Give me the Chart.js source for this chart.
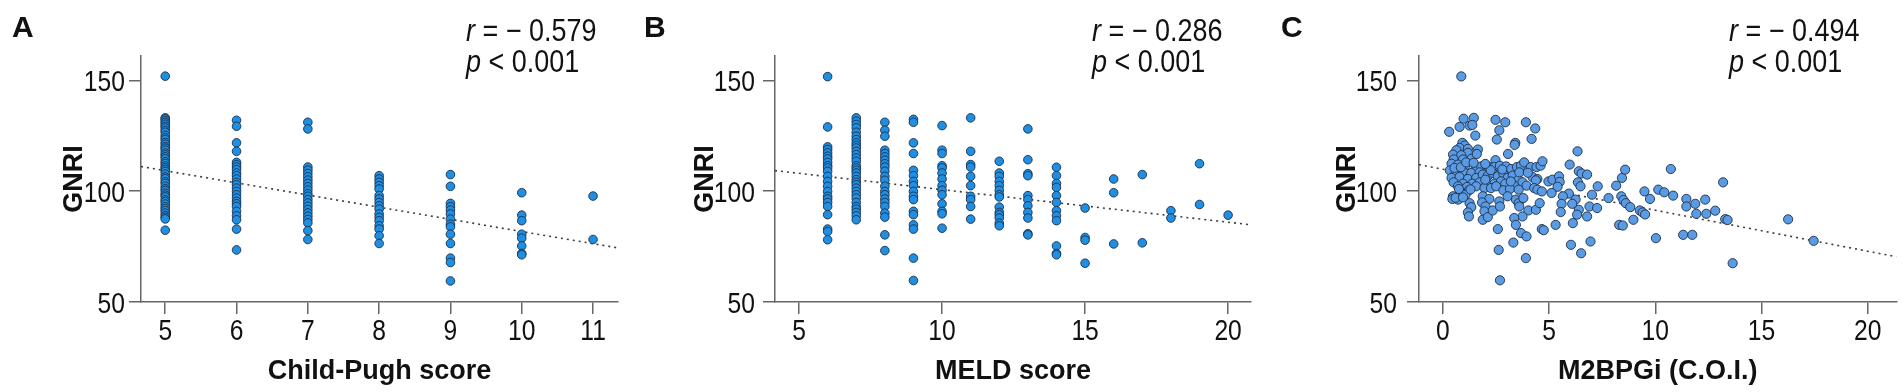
<!DOCTYPE html>
<html lang="en">
<head>
<meta charset="UTF-8">
<title>GNRI vs liver scores</title>
<script src="https://cdn.jsdelivr.net/npm/chart.js"></script>
<style>
  body { margin: 0; background: #fff; width: 1902px; height: 392px; overflow: hidden; position: relative; }
  .panel { position: absolute; top: 0; width: 634px; height: 392px; }
</style>
</head>
<body>
<div class="panel" style="left:0"><canvas id="chartA" width="634" height="392"></canvas></div>
<div class="panel" style="left:634px"><canvas id="chartB" width="634" height="392"></canvas></div>
<div class="panel" style="left:1268px"><canvas id="chartC" width="634" height="392"></canvas></div>
<script>
// --- A: Child-Pugh score (GNRI values per score column)
const cpScores = [5, 6, 7, 8, 9, 10, 11];
const cpGnri = [
  [151.9, 133.1, 132.6, 131.8, 131, 130.2, 129.3, 128.5, 127.4, 126.6, 125.2, 124.1, 123.3, 122, 121.2, 120.1, 119.4, 118.5, 117.2, 116.4, 115.5, 114.6, 113.3, 112.5, 111.4, 110.6, 109.8, 108.9, 107.7, 106.4, 105.6, 104.3, 103.5, 102.2, 101.1, 100.3, 99.1, 98.2, 97.4, 96.1, 95.3, 94.2, 93, 92.1, 91.2, 90.1, 89, 88.2, 87.5, 82.4],
  [132.0, 129.3, 121.8, 118.0, 113.0, 112.0, 110.9, 109.7, 108.2, 107.0, 105.5, 104.0, 102.9, 101.4, 99.9, 98.4, 96.9, 95.4, 94.3, 93.1, 90.9, 88.9, 87.1, 82.9, 73.5],
  [131.1, 128.1, 110.9, 109.5, 108.0, 106.5, 105.0, 103.5, 102.0, 100.5, 98.9, 97.7, 96.2, 94.7, 93.2, 91.7, 90.2, 88.7, 87.2, 85.7, 82.2, 78.2],
  [107.0, 105.5, 104.0, 102.5, 101.0, 98.0, 96.5, 94.9, 93.4, 91.9, 89.7, 88.2, 86.7, 84.4, 82.9, 79.9, 76.4],
  [107.5, 102.2, 94.5, 93.0, 91.5, 89.7, 87.4, 85.1, 83.9, 80.6, 76.4, 69.8, 67.8, 59.5],
  [99.3, 89.2, 86.7, 80.6, 78.8, 75.3, 71.9, 71.3],
  [97.8, 78.2]
];
const cpTicks = [5, 6, 7, 8, 9, 10, 11];
const cpFit = [136.7, -5.49];   // intercept, slope of dotted line
const cpStats = ['0.579', '0.001'];

// --- B: MELD score
const meldScores = [6, 7, 8, 9, 10, 11, 12, 13, 14, 15, 16, 17, 18, 19, 20];
const meldGnri = [
  [151.7, 129.0, 120.0, 118.8, 117.3, 115.8, 114.6, 113.0, 111.5, 110.5, 109.0, 106.7, 104.4, 102.2, 99.9, 97.7, 96.5, 94.9, 93.1, 89.4, 82.9, 81.8, 78.1],
  [133.1, 131.6, 130.1, 128.6, 126.6, 124.8, 123.3, 121.8, 120.6, 119.5, 118.0, 116.5, 115.0, 113.5, 111.5, 110.5, 109.4, 108.2, 106.7, 105.2, 104.0, 102.9, 101.4, 99.9, 98.4, 96.9, 94.9, 93.1, 91.9, 90.4, 88.9, 87.1],
  [131.1, 127.5, 124.8, 118.5, 117.0, 115.5, 114.0, 112.4, 110.9, 109.0, 106.7, 104.9, 102.2, 99.9, 98.4, 96.5, 94.9, 93.1, 90.1, 88.3, 80.3, 73.2],
  [132.4, 131.1, 121.8, 117.0, 109.4, 107.0, 104.4, 102.5, 99.9, 97.7, 96.2, 90.9, 89.4, 84.8, 82.9, 69.8, 59.7],
  [129.6, 118.5, 117.0, 111.5, 110.5, 108.2, 105.5, 102.5, 100.4, 98.4, 94.3, 90.9, 89.8, 83.3],
  [133.1, 118.0, 112.0, 110.9, 106.7, 102.5, 97.7, 96.2, 93.1, 87.4],
  [113.5, 108.2, 106.7, 104.4, 102.5, 100.4, 98.4, 97.4, 92.8, 90.4, 89.4, 87.9, 85.6, 84.4],
  [128.1, 114.2, 107.9, 107.0, 98.0, 96.2, 93.4, 90.4, 87.9, 80.8, 80.3],
  [110.8, 107.0, 103.5, 101.7, 98.0, 94.9, 91.2, 88.9, 86.7, 75.3, 71.9, 71.3],
  [92.4, 79.1, 77.9, 67.5],
  [105.5, 99.3, 76.2],
  [107.5, 76.7],
  [91.2, 87.9],
  [112.4, 94.0],
  [89.2]
];
const meldTicks = [5, 10, 15, 20];
const meldFit = [115.4, -1.47];
const meldStats = ['0.286', '0.001'];

// --- C: M2BPGi (C.O.I.) and GNRI, paired
const m2bpgi = [
  0.87, 0.30, 0.79, 0.98, 1.46, 1.26, 1.39, 1.53, 2.48, 2.94, 2.66, 2.54, 3.91, 4.35, 4.18, 3.41, 3.38, 3.07,
  0.92, 1.03, 0.79, 1.18, 1.65, 0.64, 0.48, 1.18, 0.87, 1.34, 0.51, 0.95, 0.41, 0.72, 1.07, 1.57, 1.81, 0.33, 0.61, 0.95, 1.34, 1.73,
  2.12, 2.48, 2.43, 2.69, 2.98, 3.21, 3.49, 3.68, 3.83, 4.14, 4.41, 4.60, 4.69,
  0.41, 0.79, 1.18, 1.57, 1.88, 2.12, 2.35, 2.59, 2.85, 3.05, 3.29, 3.57, 3.75, 4.22, 4.45,
  0.51, 0.95, 1.39, 1.73, 2.07, 2.43, 2.74, 2.94, 3.36, 3.94, 4.38,
  0.72, 1.14, 1.57, 1.96, 2.27, 2.51, 2.85, 3.16, 3.57, 0.76, 1.23, 4.30, 4.45, 4.66,
  0.48, 0.72, 1.07, 1.88, 2.19, 1.85, 1.26, 1.34, 1.18, 1.23, 2.01, 1.96, 1.88, 2.12, 2.35, 2.66, 2.69, 3.05, 3.44, 3.57, 3.79, 3.60, 4.03, 4.38, 4.56,
  3.75, 3.36, 3.44, 2.59, 3.32, 2.63, 3.91, 2.69, 3.68, 3.94, 4.66, 4.75, 5.31,
  4.97, 5.16, 5.47, 5.50, 5.40, 5.12, 5.93, 5.65, 6.34, 5.97, 6.40, 6.53, 6.79, 6.36, 6.48, 6.25, 6.09, 6.40, 6.32, 5.59, 5.55, 6.12, 6.03, 6.51, 6.79, 6.95, 6.90, 7.02, 7.26, 7.29,
  7.80, 8.16, 8.30, 8.47, 8.43, 8.58, 8.40, 8.50, 8.61, 8.82, 8.97, 9.27, 9.40, 9.52, 9.49, 9.75, 10.03, 10.14, 10.42, 10.73, 10.84, 11.31, 11.46, 11.46, 11.74, 11.88, 11.93, 12.35, 12.40, 12.82, 13.19, 13.29, 13.40, 16.25, 17.45, 13.64,
  0.45, 0.60, 0.95, 1.30, 0.55, 0.85, 1.10, 1.45, 2.25, 2.00, 2.80, 3.20, 3.60, 4.00, 1.60, 2.00
];
const m2bpgiGnri = [
  151.8, 126.8, 129.0, 132.7, 133.1, 129.6, 129.9, 125.1, 132.2, 131.1, 127.5, 123.3, 131.1, 128.3, 123.6, 121.8, 120.9, 116.8,
  121.8, 120.6, 119.5, 119.1, 118.8, 118.5, 116.5, 117.3, 116.2, 114.6, 114.3, 114.3, 112.4, 112.0, 111.5, 110.9, 111.2, 109.4, 108.5, 109.0, 108.2, 108.5,
  111.2, 114.0, 110.9, 111.5, 111.2, 110.0, 110.9, 111.5, 113.0, 110.9, 110.9, 111.5, 113.5,
  106.0, 106.4, 105.5, 106.0, 107.5, 107.0, 108.2, 106.7, 107.9, 106.0, 107.0, 105.2, 104.0, 106.4, 105.5,
  104.0, 103.4, 103.4, 104.0, 103.4, 103.4, 104.4, 103.4, 102.5, 102.5, 104.9,
  102.2, 101.9, 102.2, 101.4, 101.4, 102.2, 100.4, 101.0, 100.7, 101.0, 100.4, 101.4, 100.7, 99.9,
  97.7, 96.2, 98.4, 97.7, 96.5, 94.9, 94.6, 92.8, 90.4, 88.6, 93.1, 90.9, 87.1, 88.3, 91.3, 95.4, 93.1, 97.7, 96.2, 94.6, 96.9, 93.1, 91.3, 91.6, 94.6,
  88.6, 87.9, 84.8, 82.9, 76.8, 73.5, 69.8, 59.8, 81.1, 79.6, 82.9, 82.4, 84.8,
  104.4, 105.2, 106.7, 104.2, 102.0, 99.2, 98.9, 97.7, 118.0, 112.0, 109.0, 108.0, 107.5, 104.0, 102.2, 96.2, 94.3, 91.6, 89.4, 94.3, 90.6, 85.6, 75.8, 72.0, 88.6, 77.3, 93.1, 98.4, 92.4, 102.2,
  96.9, 102.5, 84.8, 84.5, 106.0, 109.7, 97.7, 96.0, 94.6, 92.8, 87.1, 91.3, 90.4, 89.5, 99.9, 96.5, 78.8, 100.7, 99.5, 110.0, 98.0, 80.3, 96.5, 93.1, 80.3, 94.3, 89.8, 96.2, 89.8, 91.2, 104.0, 87.4, 87.0, 87.3, 77.6, 67.5,
  96.5, 97.0, 97.2, 100.8, 110.5, 110.8, 113.0, 112.8, 109.5, 105.2, 109.8, 104.4, 108.5, 108.3, 116.8, 112.3
];
const m2bpgiTicks = [0, 5, 10, 15, 20];
const m2bpgiFit = [109.9, -1.85];
const m2bpgiStats = ['0.494', '0.001'];

const gnriTicks = [50, 100, 150];

const FONT = '"Liberation Sans", Arial, Helvetica, sans-serif';
const SQUEEZE = 0.85;   // the figure's numbers are set in a condensed face
Chart.defaults.font.family = FONT;
Chart.defaults.color = '#111';

function columnPoints(xs, groups) {
  const pts = [];
  xs.forEach((x, i) => groups[i].forEach(y => pts.push({ x: x, y: y })));
  return pts;
}

function pairPoints(xs, ys) {
  return xs.map((x, i) => ({ x: x, y: ys[i] }));
}

// draw a string squeezed horizontally around its anchor
function narrowText(ctx, str, x, y, sx) {
  ctx.save();
  ctx.translate(x, y);
  ctx.scale(sx, 1);
  ctx.fillText(str, 0, 0);
  const w = ctx.measureText(str).width * sx;
  ctx.restore();
  return w;
}

// tick labels, panel letter and r / p text
const annotate = {
  id: 'annotate',
  afterDraw(chart, args, o) {
    const ctx = chart.ctx;
    const xs = chart.scales.x, ys = chart.scales.y;
    ctx.save();
    ctx.fillStyle = '#111';
    ctx.textBaseline = 'alphabetic';

    ctx.font = '29px ' + FONT;
    ctx.textAlign = 'center';
    o.xTicks.forEach(v => narrowText(ctx, String(v), xs.getPixelForValue(v), xs.top + 38, SQUEEZE));
    ctx.textAlign = 'right';
    gnriTicks.forEach(v => narrowText(ctx, String(v), ys.right - 12 - o.yTickPad, ys.getPixelForValue(v) + 10.5, SQUEEZE));

    ctx.textAlign = 'left';
    ctx.font = 'bold 30px ' + FONT;
    ctx.fillText(o.letter, o.letterX, 37);

    const left = chart.chartArea.left + o.statDx;
    ctx.font = 'italic 31px ' + FONT;
    let w = narrowText(ctx, 'r', left, 41, 0.87);
    ctx.font = '31px ' + FONT;
    narrowText(ctx, ' = \u2212 ' + o.stats[0], left + w, 41, 0.87);

    ctx.font = 'italic 31px ' + FONT;
    w = narrowText(ctx, 'p', left, 72, 0.87);
    ctx.font = '31px ' + FONT;
    narrowText(ctx, ' < ' + o.stats[1], left + w, 72, 0.87);
    ctx.restore();
  }
};

function makePanel(id, p) {
  const fitLine = [
    { x: p.xMin, y: p.fit[0] + p.fit[1] * p.xMin },
    { x: p.xMax, y: p.fit[0] + p.fit[1] * p.xMax }
  ];
  const axisLine = { color: '#666', width: 1.5 };
  new Chart(document.getElementById(id), {
    type: 'scatter',
    data: {
      datasets: [
        {
          data: p.points,
          backgroundColor: p.fill,
          borderColor: '#1b2f4a',
          borderWidth: 0.9,
          pointRadius: p.radius,
          order: 0
        },
        {
          data: fitLine,
          showLine: true,
          borderColor: '#3c3c3c',
          borderWidth: 1.6,
          borderDash: [2, 4],
          pointRadius: 0,
          order: 1
        }
      ]
    },
    options: {
      responsive: false,
      animation: false,
      events: [],
      layout: { padding: { top: 56, right: p.padRight, left: 0, bottom: 0 } },
      plugins: {
        legend: { display: false },
        tooltip: { enabled: false },
        annotate: { letter: p.letter, letterX: p.letterX, statDx: p.statDx, stats: p.stats, xTicks: p.xTicks, yTickPad: p.yTickPad }
      },
      scales: {
        x: {
          type: 'linear',
          min: p.xMin,
          max: p.xMax,
          afterBuildTicks: s => { s.ticks = p.xTicks.map(v => ({ value: v })); },
          afterFit: s => { s.height = 90; },
          ticks: { display: false },
          grid: { drawOnChartArea: false, tickLength: 12, color: '#666', lineWidth: 1.5 },
          border: axisLine,
          title: {
            display: true,
            text: p.xTitle,
            font: { size: 27, weight: 'bold' },
            color: '#111',
            padding: { top: 0, bottom: 4 }
          }
        },
        y: {
          type: 'linear',
          min: 50,
          max: 161,
          afterBuildTicks: s => { s.ticks = gnriTicks.map(v => ({ value: v })); },
          afterFit: s => { s.width = p.yWidth; },
          ticks: { display: false },
          grid: { drawOnChartArea: false, tickLength: 12, color: '#666', lineWidth: 1.5 },
          border: axisLine,
          title: {
            display: true,
            text: 'GNRI',
            font: { size: 27, weight: 'bold' },
            color: '#111',
            padding: { top: p.yTitlePad, bottom: 0 }
          }
        }
      }
    },
    plugins: [annotate]
  });
}

makePanel('chartA', {
  points: columnPoints(cpScores, cpGnri),
  xMin: 4.66, xMax: 11.35, xTicks: cpTicks, fit: cpFit, stats: cpStats,
  xTitle: 'Child-Pugh score', letter: 'A', letterX: 12,
  fill: '#1e8fe3', radius: 4.3, padRight: 16, yWidth: 141, yTickPad: 4, yTitlePad: 58, statDx: 325
});

makePanel('chartB', {
  points: columnPoints(meldScores, meldGnri),
  xMin: 4.16, xMax: 20.8, xTicks: meldTicks, fit: meldFit, stats: meldStats,
  xTitle: 'MELD score', letter: 'B', letterX: 10,
  fill: '#1e8fe3', radius: 4.3, padRight: 17, yWidth: 141, yTickPad: 8, yTitlePad: 55, statDx: 317
});

makePanel('chartC', {
  points: pairPoints(m2bpgi, m2bpgiGnri),
  xMin: -1.12, xMax: 21.35, xTicks: m2bpgiTicks, fit: m2bpgiFit, stats: m2bpgiStats,
  xTitle: 'M2BPGi (C.O.I.)', letter: 'C', letterX: 13,
  fill: '#5b9be4', radius: 4.6, padRight: 2, yWidth: 151, yTickPad: 10, yTitlePad: 63, statDx: 310
});
</script>
</body>
</html>
